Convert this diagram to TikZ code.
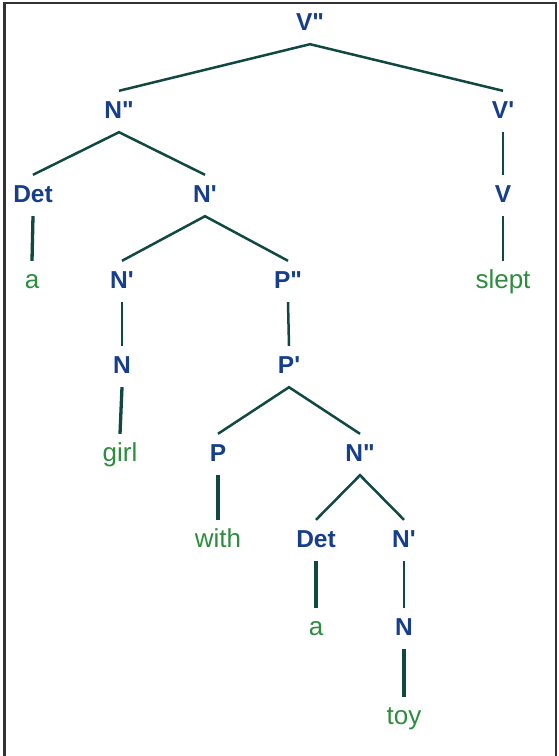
\documentclass[tikz,border=0pt]{standalone}
\usepackage{fontspec}
\setmainfont{Liberation Sans}
\newfontfamily\labfont{Liberation Sans}[BoldFont={Liberation Sans Bold}]
\definecolor{labblue}{RGB}{22,62,140}
\definecolor{leafgreen}{RGB}{45,140,62}
\definecolor{edgecol}{RGB}{16,72,66}
\definecolor{framecol}{RGB}{50,50,50}
\newcommand{\dq}{\char"22\relax}
\newcommand{\sq}{\char"27\relax}
\begin{document}
\begin{tikzpicture}[x=1pt,y=-1pt,
  lab/.style={anchor=base,inner sep=0pt,text height=27pt,text depth=14pt,
    font=\labfont\bfseries\fontsize{24.5pt}{28pt}\selectfont,text=labblue},
  leaf/.style={anchor=base,inner sep=0pt,text height=27pt,text depth=14pt,
    font=\labfont\fontsize{26pt}{30pt}\selectfont,text=leafgreen},
  br/.style={draw=edgecol,line width=2.5pt},
  thickbr/.style={draw=edgecol,line width=3.3pt}]
\useasboundingbox (0,0) rectangle (558,756);
\draw[framecol,line width=2.5pt] (4.5,760) -- (4.5,3) -- (556,3) -- (556,760);
% rows
\def\rA{30}\def\rB{118}\def\rC{202}\def\rD{288}\def\rE{373}
\def\rF{461}\def\rG{547}\def\rH{635}\def\rI{724}
\node[lab] (vpp) at (310,\rA) {V\dq};
\node[lab] (npp) at (119,\rB) {N\dq};
\node[lab] (vp) at (503,\rB) {V\sq};
\node[lab] (det1) at (33,\rC) {Det};
\node[lab] (np1) at (205,\rC) {N\sq};
\node[lab] (v) at (503,\rC) {V};
\node[leaf] (a1) at (32,\rD) {a};
\node[lab] (np2) at (122,\rD) {N\sq};
\node[lab] (ppp) at (288,\rD) {P\dq};
\node[leaf] (slept) at (503,\rD) {slept};
\node[lab] (n1) at (122,\rE) {N};
\node[lab] (pp) at (289,\rE) {P\sq};
\node[leaf] (girl) at (120,\rF) {girl};
\node[lab] (p) at (218,\rF) {P};
\node[lab] (npp2) at (360,\rF) {N\dq};
\node[leaf] (with) at (218,\rG) {with};
\node[lab] (det2) at (316,\rG) {Det};
\node[lab] (np3) at (404,\rG) {N\sq};
\node[leaf] (a2) at (316,\rH) {a};
\node[lab] (n2) at (404,\rH) {N};
\node[leaf] (toy) at (404,\rI) {toy};
% branches
\draw[br] (npp.north) -- (vpp.south) -- (vp.north);
\draw[br] (det1.north) -- (npp.south) -- (np1.north);
\draw[br] (vp.south) -- (v.north);
\draw[thickbr] (det1.south) -- (a1.north);
\draw[br] (np2.north) -- (np1.south) -- (ppp.north);
\draw[br] (v.south) -- (slept.north);
\draw[br] (np2.south) -- (n1.north);
\draw[br] (ppp.south) -- (pp.north);
\draw[thickbr] (n1.south) -- (girl.north);
\draw[br] (p.north) -- (pp.south) -- (npp2.north);
\draw[thickbr] (p.south) -- (with.north);
\draw[br] (det2.north) -- (npp2.south) -- (np3.north);
\draw[thickbr] (det2.south) -- (a2.north);
\draw[br] (np3.south) -- (n2.north);
\draw[thickbr] (n2.south) -- (toy.north);
\end{tikzpicture}
\end{document}
